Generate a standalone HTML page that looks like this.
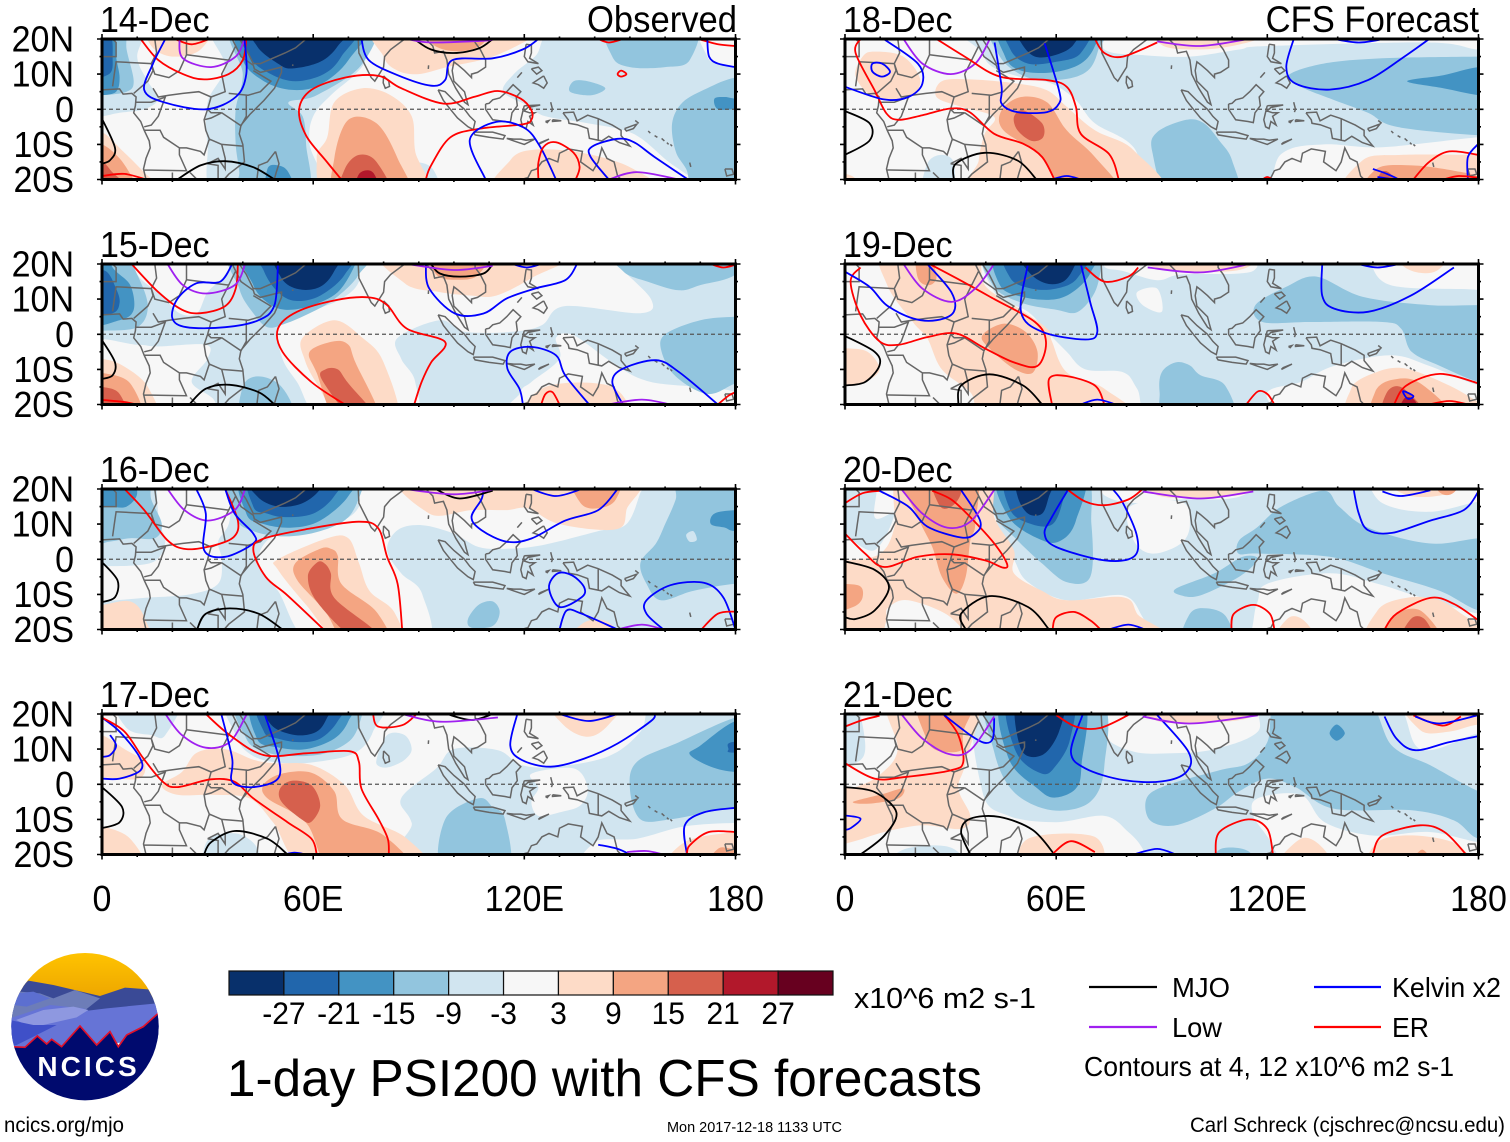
<!DOCTYPE html>
<html lang="en">
<head>
<meta charset="utf-8">
<title>1-day PSI200 with CFS forecasts</title>
<style>
html,body{margin:0;padding:0;background:#fff;}
svg{display:block;font-family:"Liberation Sans",sans-serif;}
</style>
</head>
<body>
<svg id="chart" xmlns="http://www.w3.org/2000/svg" width="1510" height="1142" viewBox="0 0 1510 1142">
<rect width="1510" height="1142" fill="#fff"/>
<g id="panels"></g>
<g id="colorbar"></g>
<text x="854" y="1008" font-size="29" textLength="182" lengthAdjust="spacingAndGlyphs">x10^6 m2 s-1</text>
<text x="227" y="1096" font-size="52" textLength="755" lengthAdjust="spacingAndGlyphs">1-day PSI200 with CFS forecasts</text>
<text x="667" y="1132" font-size="14.5" textLength="175" lengthAdjust="spacingAndGlyphs">Mon 2017-12-18 1133 UTC</text>
<text x="1190" y="1132" font-size="21" textLength="315" lengthAdjust="spacingAndGlyphs">Carl Schreck (cjschrec@ncsu.edu)</text>
<text x="4" y="1132" font-size="21" textLength="120" lengthAdjust="spacingAndGlyphs">ncics.org/mjo</text>
<g>
<line x1="1089" x2="1157" y1="987" y2="987" stroke="#000" stroke-width="2.2"/>
<text x="1172" y="997" font-size="28" textLength="58" lengthAdjust="spacingAndGlyphs">MJO</text>
<line x1="1314" x2="1381" y1="987" y2="987" stroke="#00f" stroke-width="2.2"/>
<text x="1392" y="997" font-size="28" textLength="109" lengthAdjust="spacingAndGlyphs">Kelvin x2</text>
<line x1="1089" x2="1157" y1="1027" y2="1027" stroke="#a020f0" stroke-width="2.2"/>
<text x="1172" y="1037" font-size="28" textLength="50" lengthAdjust="spacingAndGlyphs">Low</text>
<line x1="1314" x2="1381" y1="1027" y2="1027" stroke="#f00" stroke-width="2.2"/>
<text x="1392" y="1037" font-size="28" textLength="37" lengthAdjust="spacingAndGlyphs">ER</text>
<text x="1084" y="1076" font-size="28" textLength="370" lengthAdjust="spacingAndGlyphs">Contours at 4, 12 x10^6 m2 s-1</text>
</g>
<g transform="translate(0,940) scale(0.3333)">
<defs><clipPath id="logoClip"><circle cx="255" cy="260" r="221"/></clipPath>
<linearGradient id="skyGrad" x1="0" y1="0" x2="0" y2="1"><stop offset="0" stop-color="#ffc400"/><stop offset="1" stop-color="#eda500"/></linearGradient></defs>
<g clip-path="url(#logoClip)">
<rect x="30" y="35" width="450" height="140" fill="url(#skyGrad)"/>
<path d="M30 170 L85 122 L160 135 L300 168 L375 143 L445 148 L490 230 L490 300 L30 300Z" fill="#3a4a96"/>
<path d="M30 200 L60 155 L120 160 L160 175 L225 150 L300 175 L250 215 L30 260Z" fill="#6d7db8"/>
<path d="M50 160 L100 155 L150 175 L80 200 L40 195Z" fill="#5c6fd0"/>
<path d="M30 235 L150 195 L250 205 L265 212 L320 205 L470 190 L490 230 L490 300 L30 330Z" fill="#6674d6"/>
<path d="M48 240 L130 210 L220 200 L265 210 L230 232 L130 255 L80 255Z" fill="#8e98e0"/>
<path d="M30 240 L100 255 L170 255 L90 295 L50 315 L30 320Z" fill="#3f50c8"/>
<path d="M30 320 L75 322 L112 288 L140 312 L155 298 L185 320 L240 258 L290 315 L330 275 L355 320 L380 285 L430 260 L480 215 L490 500 L20 500Z" fill="#000a6e" stroke="#e0102a" stroke-width="5"/>
</g>
<text x="112" y="408" font-size="84" font-weight="bold" fill="#fff" textLength="298" lengthAdjust="spacing">NCICS</text>
</g>
</svg>
<script>
const panelDates = ['14-Dec','15-Dec','16-Dec','17-Dec','18-Dec','19-Dec','20-Dec','21-Dec'];
const latTicks = [20,10,0,-10,-20];
const latLabels = ['20N','10N','0','10S','20S'];
const lonTicks = [0,60,120,180];
const lonLabels = ['0','60E','120E','180'];
const colorbarColors = ['#08306b','#2166ac','#4393c3','#92c5de','#d1e5f0','#f7f7f7','#fddbc7','#f4a582','#d6604d','#b2182b','#67001f'];
const colorbarLabels = ['-27','-21','-15','-9','-3','3','9','15','21','27'];
const contourColors = {m:'#000000',k:'#0000ff',l:'#a020f0',e:'#ff0000'};

const fills14 = [
[-6,134,25,123,15,117,10,114,5,121,1,126,-2,138,-4,151,-7,161,-15,168,-20,172,-25,190,-25,190,25],
[0,170,25,172,15,175,13,180,12,190,12,190,25],
[-12,144,25,145,15,150,12,160,12,167,14,168,25],
[-12,134,8,138,8,143,6,139,4,133,5],
[-12,190,9,180,9,172,6,165,2,162,-4,163,-12,166,-17,170,-25,190,-25],
[-18,174,3,177,3.5,180,3,185,3,185,-1,180,0,175,0],
[-6,-5,25,12,25,10,15,13,8,16,3,12,0,5,-1,0,-2,-5,-2],
[-6,33,25,35,12,30,2,30,-10,33,-25,62,-25,59,-10,60,-2,65,4,72,10,75,15,74,25],
[-6,79,-25,82,-17,88,-15,94,-17,95,-25],
[-12,-5,25,6,25,7,17,9,8,7,5,0,4,-5,4],
[-12,38,25,40,10,38,0,38,-10,39,-18,39,-25,58,-25,58,-10,57,-2,53,2,61,4,74,13,75,25],
[-18,-5,25,3,25,4,15,5,9,4,5,0,4,-5,4],
[-24,-5,25,2,22,3,15,2,10,-5,10],
[-18,40,25,40,14,46,8,54,5.5,62,7,70,14,74,25],
[-18,47,-25,47,-17,50,-16,53,-18,55,-25],
[-24,41,25,42,15,48,10,55,8,63,10,68,15,72,25],
[-30,43,25,44,18,50,13,54,11.6,62,13.5,67,18,70,25],
[6,74,6,66,2,64,-8,61,-14,65,-25,92,-25,89,-12,88,-2,82,4],
[12,70,-3,66,-14,67,-25,87,-25,84,-14,78,-4],
[18,68,-25,69,-17,73,-13,78,-15,82,-25],
[24,72,-25,73,-18.5,77,-18,79,-25],
[6,79,25,80,15,84,11,90,10,98,12,111,15,123,21,125,25],
[12,92,25,94,18.5,101,16.5,108,18.5,110,25],
[6,-5,-7,0,-6.5,6,-12,12,-18,18,-25,-5,-25],
[12,-5,-10,0,-10,5,-14,9,-20,12,-25,-5,-25],
[18,-5,-15,0,-15,3,-18,6,-21,6,-25,-5,-25],
[6,13,25,14,18,20,15,28,17,31,25],
[6,113,-25,116,-14.5,123,-11.5,137,-12.5,151,-17,158,-25]
];
const contours14 = [
['e',[11,20,16,14,23,10,29,8.5,36,10,40,14,41,20]],
['e',[20.7,20,25.4,18.5,30.5,20]],
['l',[22,20,23,14.5,31,12,38,15,40.5,20]],
['k',[18,20,14.5,13,12,5.5,17.5,2,29.5,0,38,3.5,41,10,40.5,20]],
['m',[0,-2.7,3.7,-11,2.3,-14.5,0,-15.5]],
['m',[21.4,-20,28,-16,35,-14.8,43,-16.5,49,-20]],
['e',[0,-19,6.4,-18.4,12.5,-20]],
['e',[68,-20,63.5,-14.5,58,-7.5,56,0,59.5,5.5,69,9,78.6,9.5,85,6,97,1.6,106,3.6,112.5,5.2,119,3,122,-0.3,122,-3,119.5,-4.3,107.5,-5.5,99,-8,93.5,-16,92,-20]],
['k',[73.7,20,75.8,14,84,9.7,93.5,6.7,97.5,8.3,99.6,14,111,14.5,119.5,17,124,20]],
['m',[88.7,20,93.5,17,100,16,107,17.3,111,20]],
['l',[86.6,20,93.5,19,108,19.5,112,20]],
['k',[109,-20,104.5,-8.7,112,-3.6,120,-5.3,124.5,-10.7,129,-20]],
['e',[124,-20,124,-15.2,125.5,-10.7,129,-9.4,134,-12.4,135.7,-16.4,134.6,-20]],
['k',[144,-20,138.8,-13.5,139.3,-10.6,146.5,-8.4,151.2,-9.4,156.9,-13.5,166.5,-20]],
['l',[144,-20,152,-17.9,164,-20]],
['e',[141,20,144,19,148,20]],
['e',[169.4,20,175,18.5,180,18]],
['k',[172,20,172.5,15,175,13,180,12]],
['e',[146.5,10,147.5,11,149,10,147.5,9.3],1]
];

const fills15 = [
[-6,-5,25,190,25,190,-25,-5,-25],
[0,73,25,146,25,146.5,20,156,10,153,6,131.5,8,125,2.6,116.6,0.7,103,0.7,96,4,84,-1,85,-7,89,-13.6,88,-25,63.6,-25,55.4,-13.6,51.3,-7,50,1.6,55.4,5.5,66.5,9.3,73,15],
[0,122,-13.6,130,-7,129,-1,134,-0.3,145,-8,156,-13.6,180,-16.5,185,-25,119,-25,119,-16.5],
[0,8,25,10,17,17,11,22,6,27,6,30,12,35,17,38,25],
[0,-5,-3,10,-3,16,-3.5,29.5,-3,30,-7,25.5,-13.6,32,-19,30,-25,-5,-25],
[-12,-5,25,5,25,10,17,13,8,10,2,0,1,-5,1],
[-18,-5,25,1,25,3,19,8,14,9,7,5,4,-5,4],
[-24,-5,18,1,18,4,13,5,9,3,6,-5,6],
[-12,38,25,39,13,43,6,47,2,52,3,59,6,66,10,73,17,75,25],
[-18,41,25,43,14,47,9,52,7,59,8,67,12,72,20,73,25],
[-24,45,25,46,18,50,12,55,9.5,62,11,69,17,71,25],
[-30,49,25,51,16,56,12.8,62,13.5,66,18,68,25],
[-12,40,-25,40,-15,44,-12,50,-14,54,-20,54,-25],
[-12,146,25,148,18,155,15,164,12.5,170,14,180,17,185,25],
[-12,190,5,180,5,170,4,160,0,159,-5,163,-12,172,-17,180,-14,190,-10],
[6,66,4,57,-1,57.5,-7,61,-14,69,-25,84,-25,80,-8,74,-1],
[12,66,-2,59,-5,61,-11,67,-25,79,-25,72,-8,70,-3],
[18,63.5,-10,62.5,-13,72,-25,79,-25,70,-14,67,-10],
[6,81,25,86,14.5,96,12,105,11,112,11,122,16,135,25],
[12,93,25,95,17,101,15.5,107,17,110,25],
[6,-5,-7,0,-7,6,-9,13,-15,15,-25,-5,-25],
[12,-5,-11,0,-11,8,-14,11,-25,-5,-25],
[18,-5,-15,0,-15,5,-17,7,-25,-5,-25],
[6,120,-25,126,-15,145,-15,148,-25]
];
const contours15 = [
['e',[8.4,20,16,12,22.7,7,28,6,35,8,38,13,38.6,20]],
['l',[18.6,20,23,14,29.5,11.6,37.7,14,40.7,20]],
['k',[37,20,33.6,15,26.8,14.5,21.4,10,20,4.5,24,2,35,2,44.5,4,49,8.3,50,20]],
['m',[0,-1.7,3.7,-8,3,-11.7,0,-12.7]],
['m',[24.8,-20,29.5,-15.5,36.3,-14.4,44.5,-16.5,49,-20]],
['e',[0,-18.7,6.4,-19.3,9.8,-20]],
['e',[69,-20,59.5,-13.6,51.3,-5,50,1.6,55.4,6.4,66.3,9.7,75.8,10.5,81,8.3,86.6,1.6,97.5,-2.2,93.5,-8,90.8,-13.6,88.7,-20]],
['k',[92,20,93,13,100.3,5.9,108.4,5.9,115,10.2,123,13,131.6,15.4,135,20]],
['m',[93.5,20,96,17.3,101.6,16.4,108.4,17.3,111,20]],
['l',[86.7,20,100,18.3,111,19.5]],
['k',[116.6,20,120.7,19,124.8,20]],
['k',[119.6,-20,118.6,-15.5,115.2,-9.8,116,-5,122,-3.6,129,-6,131.6,-11.7,138.4,-20]],
['e',[124.8,-20,126,-17,128,-16.5,130,-20]],
['k',[148,-20,145,-13.6,148,-9.8,157.4,-7.4,164,-10.8,175,-20]],
['l',[143.8,-20,153.4,-18.6,161.5,-20]],
['e',[173,20,176.5,19,180,19.8]],
['e',[175,-20,178,-17.5,180,-16.5]]
];

const fills16 = [
[-6,-5,25,190,25,190,-25,-5,-25],
[0,73,25,154.7,25,153,19,149,10,141,8,125,4,115,3,107,3.5,100,7.3,91,9.7,84,8.3,81,2.6,85,-4,91,-10,91.5,-25,61,-25,50,-9,44.5,-1.2,47,5.4,54,8,66,10,73,15],
[0,18,25,16,12,18,5,14,-1,0,-2,-5,-2,-5,-12,0,-12,12,-11,25,-10,33,-7,34,0,33,5,36,10,37,18,38,25],
[-12,-5,25,12,25,14,17,17,10,15,6,8,6,2,5,-5,5],
[-18,-5,25,7,25,10,19,7,15,2,15,-5,15],
[-12,38,25,38,12,43,8,52,6.5,62,8,70,12,74,20,75,25],
[-18,41,25,41,13,46,10,54,9,62,11,70,18,71,25],
[-24,43,25,43,15,47,13,52,12,60,13,66,18,68,25],
[-30,41,25,44,18,50,15,57,16,62,20,63,25],
[-12,190,25,165,25,163,17,160,10,157.4,4.5,153,-1,154.7,-7,158.8,-11.7,168,-9,180,-7,190,-7],
[-18,190,14,180,14,174,13,173,10,177,9,180,8,190,8],
[-6,166,7,168,8,169,5.5,167,5],
[-12,104,-17,107,-13,111,-12,113,-15,111,-19,105,-19.5],
[6,64,6,50,0,50,-3,58,-13,69,-25,85,-25,83,-15,76,-9,73,-1,70,6],
[12,62,3,55,-1,55.5,-6,63.5,-15,70,-25,82,-25,78,-15,68,-7,67,1,65,3],
[18,61,-1,58.5,-5,61,-12,71,-22,78,-21,66,-11,65,-4,63,-1],
[6,87,25,93,13,105,14,115,14,121,14.5,130,10,146,8.5,149,14,149,25],
[12,133,25,136,16,141,14.5,146,17,147,25],
[6,-5,-13,0,-13,8,-12,12,-16.5,13,-25,-5,-25],
[6,132,-25,137,-18,144,-18,148,-25]
];
const contours16 = [
['e',[6.4,20,12,14,18.6,5.4,24,2.9,32,4,37.5,6.4,38.6,11,35,20]],
['l',[18.6,20,23.4,14,30,11,37.7,14,40.7,20]],
['k',[26.8,20,29.5,13,29,2.6,35,0.7,43,4.5,43,7.3,37.7,13,35,20]],
['m',[0,-0.8,4.4,-6,3.7,-10.8,0,-12.2]],
['m',[27,-20,29.5,-15.5,36.3,-14,44.5,-15.5,51.3,-20]],
['e',[63,-20,52.7,-10.3,46.5,-5,43,2.6,46,5.9,59.5,8.8,73,10.7,78.5,8.8,81,0.7,84,-7,85.3,-20]],
['k',[108.4,20,107.8,17,105,12,107.8,8.3,115,5,122,5.9,131.6,11,141,14,146.5,20]],
['k',[122,20,129,18,136.3,20]],
['m',[94.8,20,101.6,17.3,111,19.5]],
['l',[86,20,100,18.5,112.5,20]],
['k',[129.5,-4,127,-8,130,-13.6,136.3,-10.8,137,-8,133.6,-4.6],1],
['k',[130,-20,132,-14.6,136.3,-15.5,146.5,-20]],
['l',[146.5,-20,153.4,-18.6,159.5,-20]],
['k',[159.5,-20,154.7,-15.5,154.7,-11.7,161.5,-7.4,171,-6.7,176.5,-10.8,180,-20]],
['e',[170.3,-20,175,-15.5,180,-14.9]]
];

const fills17 = [
[-6,159,25,153,15,144,8,129,5,119,5.5,112.5,9.7,100,10,95,4.5,85,-4,88,-11,91,-25,190,-25,190,25],
[0,122,3,134,4.5,138,-1,136,-6,130,-8,124,-9,122,-5,124,-1],
[0,140,-25,140,-16.5,152,-15.5,165.5,-12,180,-11,190,-11,190,-25],
[-6,78,7,81,14,86,14,88,10,86,7,82,5,79,5],
[-6,4,25,7,16,14,14,18,14,22,25],
[-6,30,-25,30,-16,38,-14,44,-18,44,-25],
[-12,190,20,180,19,164,12,152,6.4,150,-1.3,153,-10,161.5,-10,172,-8,180,-6.5,190,-6],
[-18,190,19,180,18,170,11,167,8.5,173,5,180,3.5,190,3.5],
[-24,179,12,178,10,179,9,190,9,190,12],
[-12,107,-4,97.5,-10,97,-25,115,-25,114.5,-10,111,-6.5],
[-6,38,25,38,14,43,8,52,6,62,6.5,72,9,77,15,78,25],
[-12,40,25,41,13,47,9,56,8,64,9,71,13,74,20,75,25],
[-18,44,25,44,13,50,10.5,58,10,66,13,70,18,71,25],
[-24,45,25,46,15,50,13,56,12,62,13,67,18,69,25],
[-30,46,25,48,17,55,14,61,15,64,19,66,25],
[6,48.6,6,59.5,5.5,69,-0.3,74.4,-9,86.7,-15.5,92,-25,59.5,-25,48.6,-10.8,41.8,-4,31,-3,21.4,-3,17,-0.3,22.7,3.5,27,9,35,10,43,7],
[12,51,3,59.5,3.3,66,-2,68.3,-10,80,-14.5,88,-25,66,-25,58,-11,47,-4,46,0],
[18,54,1,59.5,-0.3,62,-6,59.5,-10.7,56.7,-10,51,-5,50.6,-1.2],
[6,-5,14,0,14,6.4,10,12,6.4,10.5,1.6,0,2,-5,2],
[6,-5,-12,0,-12,8,-15.5,12,-25,-5,-25],
[6,161.5,-25,165.5,-16.5,180,-13.6,190,-13,190,-25],
[12,172,-25,175,-18.4,180,-18.4,190,-18,190,-25],
[6,127,25,131,17,138,13.5,144,17,148,25]
];
const contours17 = [
['k',[0,19,5,15,10.5,8,11,4,5,1.6,0,1.6]],
['k',[0,7.8,2.3,8.3,4,11,2.3,14]],
['e',[0,19,6.4,15,11.8,7.3,17.3,0.7,21.4,-0.8,31,1.4,37.7,0.7,43,-4,52.7,-10.8,59.5,-15.5,61,-20]],
['m',[0,-0.8,5.7,-6.5,5,-10.8,0,-12.5]],
['m',[29,-20,31,-16.5,37.7,-13.3,47,-15.5,52.7,-20]],
['l',[18,20,22.7,14,29.5,10.4,36.3,12,41,19.7]],
['e',[29.5,20,36.3,14,46,8.3,58,8.8,70.3,9.4,73,6.4,73.7,-1.2,78.5,-9.8,81.2,-15.5,81.5,-20]],
['k',[33.9,20,37,7.3,37,0.7,43,-0.8,50,1.6,50,8.3,46.3,19.7]],
['e',[77,20,78.5,16.4,85.3,16.8,89.4,20]],
['m',[98,20,105,18.3,111,20]],
['l',[85.3,20,96,17.8,112.5,19]],
['k',[118,20,116,11,119.3,6.9,127.5,5,137,7.3,146.5,11.6,156,18,157,20]],
['k',[130,20,138.3,18,146.5,20]],
['k',[180,-6.7,171,-8,165.6,-11.7,166.2,-20]],
['e',[180,-13.6,172.4,-13.6,167,-17.4,166.2,-20]],
['k',[141,-17.2,146.5,-18.4,150,-20]],
['l',[149.2,-19.3,154.7,-19,159.5,-20]],
['k',[52,-20,54.7,-19.5,58,-20]]
];

const fills18 = [
[-6,32,25,38,17,42,12,50.6,9,58.8,7.3,65.6,2.6,71,-4,82,-10.8,88.7,-25,117,-25,124,-12.7,136,-10,152.7,-10.8,180,-8,190,-8,190,18,180,17,166,19,120,18,112,17,98,15,85,15.4,73.7,17,71,25],
[-12,126,9.7,136,13,152.7,14.5,180,15,190,15,190,-7,180,-7.4,156.7,-5,148.6,-1,139,2.6,129.5,6.4],
[-18,159.7,8,170,9.7,180,12,190,12,190,3,180,4,170,6],
[-12,97,-3,88.7,-6.5,87.3,-12,92.8,-25,111,-25,110,-14.6,106.4,-9,102,-4],
[-12,43,25,44,15,52,9,62,8.5,69,11,72,17,73,25],
[-18,45,25,45.5,15,50,11,59,10.5,67,13,71,18,72,25],
[-24,46.5,25,47,17,52,13,60,13.5,67,16,69,25],
[-30,48,25,50,19,54,15,60,15.5,65,18.5,66.5,25],
[6,8.4,16.4,16.6,15,21.4,8.3,18,3.5,8.4,3.5,3,9.3,5,15],
[6,27.5,8,35.6,8.5,49,7.3,57.4,5.4,63,0.7,71,-6,82,-11.7,88.7,-25,37.7,-25,38,-14.6,39.7,-7,42.4,-2.2,33,0.7,26,3.5],
[12,50,3.5,57.4,2,63,-6,71,-13.6,79,-25,63,-25,56,-13.6,45,-6,44.5,-0.3],
[18,50.6,-0.3,56,-4,56.3,-8,53,-9,49,-6,48,-2.2],
[6,144,-25,147,-14.6,158,-13,180,-13,190,-13,190,-25],
[12,149,-25,151,-17,161,-16,173,-17.5,180,-19.5,180,-25],
[18,150.6,-25,152,-18.4,155,-18.4,158,-25],
[6,-5,-25,-5,-19,2,-19,6,-25],
[-6,22,-25,23.4,-15.5,27.5,-13,31,-15.5,30,-25],
[6,88,25,90,18.3,100,17,110,18,120,21,122,25]
];
const contours18 = [
['e',[4.4,20,3,16,8.4,5.4,11.8,-1.2,15.2,-3,22,-1.7,30,0.2,35.4,-0.8,42.4,-7,50.6,-9.8,56,-13.6,59.5,-20]],
['k',[7.8,13,10.5,13,12.8,10.7,10.5,9.3,7.8,10.7],1],
['k',[11,20,20.7,13,22,7.3,18,3.5,11,2.8,0,6.4]],
['l',[16.6,20,22,13,30,10,37,13,41,19.7]],
['e',[26,20,34,15,44,9.3,57.4,8.3,63,6.4,65.6,0.7,67,-7,75,-12.7,77.8,-20]],
['k',[42.5,19,44.5,6.4,44.5,1.6,49,-0.8,57.4,-0.8,60.8,1.6,60.8,5.4,56.7,18.8]],
['e',[71,20,73.7,16,79,15,88.7,19]],
['m',[0,-0.5,7,-4,7,-8.9,0,-13]],
['m',[30.9,-20,31.5,-15.5,39.7,-12.4,49,-14.6,54.4,-20]],
['k',[58.8,-20,63,-19,67,-20]],
['l',[88.7,19.3,101,18,114.6,20]],
['k',[127.5,20,125.4,12,128,7.3,137.7,5.6,148.6,8.3,159.5,15.4,166,20]],
['k',[139,20,146,19,153,20]],
['e',[161.5,-20,166,-15,171.7,-12,180,-13]],
['k',[180,-9.8,177,-13.6,177,-20]],
['k',[150,-17,154,-18.4,157,-20,151.3,-19.3]],
['e',[170,-20,174.4,-19,180,-19.5]],
['e',[118.6,-20,120,-19.3,121.4,-20]]
];

const fills19 = [
[-6,41,25,42.5,12,52,6.4,57.4,0.7,63,-5,68.3,-10,79,-10.8,83,-15.5,88.7,-25,120,-25,120,-16.5,129.5,-13.6,139,-9,155,-6,166,-9,180,-14.5,190,-15,190,10,180,12.6,155,14,148.6,22,146,25,118,25,117,19,112,17.3,95.5,17,88.7,15.4,79,18,73.7,19.3,73,25],
[0,83,12,88.7,13,90,6.4,84.6,8.3],
[-12,116.6,8.3,125.4,13.5,134,16.4,147,10.7,166,8.3,180,8.3,190,8,190,-15,180,-13.6,169,-9,161,-5,158,1.6,152.7,3.5,132,3.5,118.6,3.5],
[-12,94,-8,90,-10.8,89.4,-16.5,91.4,-25,110,-25,108,-14.6,101,-11.7,98,-8.9],
[-12,41,25,42,14,50,9,60,7,66,6.3,71,12,73,20,74,25],
[-18,44,25,44,14,51,10.5,60,10,66,13,70,18,71,25],
[-24,46,25,47,16,53,13,60,13,66,16,69,25],
[-30,49,25,52,18,57,14.5,62,15,65,19,66.5,25],
[6,11,25,12,14,19.3,3.5,23.4,-1.2,27.5,-10,35.6,-16.5,42.4,-25,82,-25,73.7,-15.5,63,-10.8,58.8,-2,57.4,1.6,48,8.3,39.7,14,35.6,25],
[12,45,3,51.3,0.7,54.7,-5,53.3,-11,48,-9.8,41,-4,39,-0.3],
[12,22.7,25,26,16.9,24,14,20.7,16,20,25],
[6,-5,-4,0,-4,6.4,-5,9.8,-10,5.7,-13.6,0,-14.6,-5,-14.6],
[6,146.5,-25,143.8,-15.5,151,-10.8,159.5,-9.8,171.7,-14.6,180,-19.3,190,-25],
[12,151,-25,150.6,-16.5,155.4,-13,163.5,-14,173,-25],
[18,153,-25,154,-16.5,158.8,-15.5,166,-25],
[24,157,-25,158.8,-18.4,162,-19,163.5,-25],
[6,155,25,160,18.5,168,18,172,25],
[6,84.6,25,88.7,18.8,112,18.3,117,25]
];
const contours19 = [
['e',[4.4,19,1.6,15,4.4,5.4,9.8,-2,15.2,-3,23.4,-0.8,31.6,0.2,39.7,-4,48,-8,54.7,-9,57.1,-2.2,54,3.5,42.4,10,31.6,16,24,20]],
['k',[0,17.8,7,13.5,11.8,8.3,19.3,4.5,26,4,30.9,6.4,30.2,12,23.4,20]],
['l',[16.6,20,22,13,30.2,9.2,37,13,42.4,20]],
['k',[52,20,50,6.4,56,0.7,68.3,-1.5,71.7,0.7,69.7,9,67,20]],
['e',[68.3,19,73.7,15,80.5,16.4,83.3,19]],
['m',[0,-0.5,8.4,-5,9.8,-8.9,5.7,-13.6,0,-14.6]],
['m',[32.2,-20,33,-14.6,41,-11.4,50.6,-14.6,56,-20]],
['e',[58.8,-20,58,-12.7,62.9,-11.9,71,-14.6,73.7,-20]],
['k',[67,-20,71.7,-18.6,77,-20]],
['l',[86,19,101,17.6,115,20]],
['e',[114,-20,117.3,-16.3,120,-17,122,-20]],
['e',[156,-20,159.5,-14.6,169,-11.3,180,-14]],
['e',[166,-20,171.7,-19,177,-20]],
['k',[158.8,-16.2,161.5,-17.6,160,-18.4,158.8,-17],1],
['k',[135.6,20,135.6,11,139,7.3,148.6,6.4,160.8,11,173,19]],
['k',[145.8,20,151.3,19,157.4,20]]
];

const fills20 = [
[-6,41,25,43,11,48,0,52,-6.5,63,-11.7,79,-10.3,84.6,-16.5,88.7,-25,112,-25,117,-12.7,120,-7,137.7,-4,151.3,-7,163.5,-10.8,180,-15.5,190,-16,190,17,180,16.4,166,13.5,152.7,16,144.5,25,124,25,112,17.8,95.5,17,83,16,74,18,68,25],
[0,81,15,95.5,16.4,98,10,95.5,4.5,87.3,1.6,82,5.4],
[-12,112,5.4,117,9,124,15,136,19.5,140.4,15,148.6,9,166,4.5,180,6,190,6,190,-15,180,-14.6,169,-9,152.7,-4,137.7,0.7,117.6,1.6,111.8,1.6],
[-12,94,-8.4,105,-4,113,0.7,117.3,0,112,-5,101,-10.3,95.5,-10.3],
[-12,96,-25,98,-15.5,103,-14,108.4,-16.5,110,-25],
[-12,67,25,70,10,69.7,-5,63,-6.5,56,-1.2,48,6.4,42.4,13,41,25],
[-18,44,25,46.5,12,56,5.4,61.5,5.4,65.6,11,67.2,25],
[-24,46,25,47,14,53,10,59,10,62,17,63,25],
[-30,49,25,49,18,52,13,56,13,58,18,60,25],
[-6,-5,25,8.4,25,8.4,12,14,13,8.4,2.6,0,6.4,-5,6],
[6,16,25,14,9,10,1.6,1.6,-0.3,-5,-1,-5,-25,87,-25,83,-15.5,79,-10.8,63,-11.7,56,-9,48,-4,48,2.6,42.4,12,40,25],
[0,12.5,-13.6,18,-11.7,30,-16.5,34.3,-25,13,-25,11.8,-16.5],
[12,16.3,25,20.7,12,24.8,3.5,27.5,-5,31.6,-9.8,34.3,-5,35.6,5.4,37,10,36.3,25],
[18,24,25,26.8,15.4,30.2,15,33,19,32,25],
[12,-5,-8,3.7,-7.4,5,-10.8,2.3,-13.6,-5,-15],
[6,150.6,-25,151.3,-14.6,159.5,-11,169,-11.7,178.5,-17.4,190,-20,190,-25],
[12,154,-25,155.4,-16.5,163.5,-14.6,170,-25],
[18,157.4,-25,160.8,-17,165,-17.4,167.6,-25],
[6,121.4,-25,126,-16.7,131,-18,134,-25],
[6,86,25,88,18.5,100,17.5,115,19,118,25],
[6,152.7,25,159.5,18.3,171.7,18.8,180,25],
[12,166,25,169,19,173,19,176,25]
];
const contours20 = [
['e',[0,16,5,18.8,9.8,19.5]],
['e',[0,7.3,5.7,1.6,11.2,-2.2,20.7,0.7,30.2,1.4,39.7,-0.3,45,-2.4,46,-1.2,42.4,4.5,35.6,12,30.2,17,24.8,19.5]],
['k',[9.8,19.5,18,15,23.4,9.3,33,6.2,37,7.3,38.4,11,33,19.7]],
['l',[16,20,22,13,29,9,35.6,10.7,42.4,19.7]],
['m',[0,-0.6,8.4,-3,12.5,-8,8.4,-14.6,3,-17,0,-16.5]],
['m',[34.3,-20,33,-15.5,41,-10.5,52,-13.6,58,-20]],
['e',[59,-20,60,-16.5,65,-15,69.7,-17.4,72.6,-20]],
['k',[75,-20,80.5,-18.6,85.3,-20]],
['k',[76,20,79,16,83,6.4,82,0.7,73.7,-0.3,60,3.5,56.7,7.3,58.8,12,63.5,20]],
['e',[63,20,68.3,16.4,73.7,15.4,80.5,17,84.6,20]],
['l',[84.6,19.3,101,17.3,116,19.3]],
['e',[109.8,-20,110.5,-15.5,116,-13,120.7,-15.5,122,-20]],
['e',[153.3,-20,156.7,-15.5,166.3,-11,173,-12.7,180,-17.4]],
['k',[144.5,20,146,13,148.6,8.3,155.4,7.5,166.3,11,175.8,14,180,19.3]],
['k',[152.7,19.3,158,18,166.3,19.6]]
];

const fills21 = [
[-6,39,25,39,-2,46.5,-9,60,-10.8,73.7,-9,80.5,-13.6,84.6,-18.4,86.7,-25,121.4,-25,121.4,-17.4,116,-9,117.3,-4,129.5,-3,136.3,-10.8,150,-14.6,166,-13.6,180,-16.5,190,-17,190,15,180,14.5,163.5,10,154,25,120,25,117.3,15,105,10,92.8,8.8,82,9.3,73.7,14,72.4,25],
[-12,124,25,120,12,114.6,6,106.4,4,91.4,-0.3,85.7,-4,86.7,-10.3,94,-11.7,105,-7,112,-2,120,1.6,128,-0.8,139,-7,161,-7.4,173,-10.3,180,-15.5,190,-15,190,-5,180,-2,166.3,5.4,155.4,11,147,25],
[-18,139.7,17,142,14.5,139.7,12.4,137.7,14.5],
[-12,41.8,25,42.4,9.2,48,-2.2,58.8,-7.4,69.7,-5,73.7,5.4,71.7,25],
[-18,45,25,46.5,7.3,54.7,-1.2,59.5,-3.8,65.6,-1.2,67.2,5.4,67.2,25],
[-24,46.5,25,48.6,9.2,56,3,60,5.4,64,13,64,25],
[-30,49,25,50,10,56,8.3,60.8,15,61.8,25],
[6,12.5,25,15,10,9.8,2.6,3,-0.8,0,-1,-5,-1,-5,-17,1.6,-16.5,11.2,-13.6,22,-11.7,33,-12.7,35.6,-9,32.2,-1.2,34.3,6.4,37,25],
[12,20.7,25,22.7,14,26,9.7,33,9.7,33.6,15,36.3,25],
[12,2.3,-5,11,-2.7,16.6,-1.2,15.2,-4,7,-5.5],
[6,150,-25,151.3,-16.5,162,-14.6,174.4,-17.4,176.5,-25],
[12,160,-25,164,-18.6,167.6,-25],
[6,122,-25,129.5,-15.5,136,-18.4,137.7,-25],
[6,51.3,-25,52,-15.5,71,-15,71.7,-25],
[6,159.5,25,163.5,15.4,171.7,15,180,17,190,17,190,25],
[-6,12,-25,16.6,-18.6,30,-18,34,-25],
[-6,-5,25,2.3,25,5.7,12,3.7,6.4,-5,6],
[-12,105,-25,106.4,-18.6,114.5,-19,117,-25],
[6,84,25,88,18.3,100,17.5,115,19,118,25]
];
const contours21 = [
['e',[0,16.4,5,18.3,9.8,19.5]],
['e',[0,6,8.4,1.6,16.6,2,30.2,4,33.6,6.4,32.2,14,28.2,19.7]],
['k',[28.2,19.7,35.6,14,39.7,11.8,42,13,42.4,18.8]],
['l',[16,20,22,13,29.5,8.6,35.6,9.7,42.4,19.3]],
['m',[0,-0.8,8.4,-2.2,14.6,-8,11.2,-14.6,4.4,-20]],
['k',[0,-8.9,4.4,-9.8,1.6,-12.5,0,-13]],
['m',[35.6,-20,33,-13.6,35.6,-9.8,43.8,-9.3,53.3,-13,59.5,-20]],
['e',[58.8,-20,64.2,-16.2,71,-19.3]],
['k',[82,-20,88.7,-18.4,94,-20]],
['k',[67.6,20,64.2,9.2,68.3,4.5,79,1.2,90,0.8,97,3.5,97.6,9.2,88.7,19.7]],
['e',[60,19.7,65.6,16.4,72.4,16,80.5,19.7]],
['l',[84.6,19.3,98,17.3,117.3,19.6]],
['e',[105.3,-20,106.4,-13.6,114.6,-10,120,-12.7,121.6,-20]],
['e',[150,-20,152.7,-14.6,163.5,-11.7,170.3,-13.6,176.5,-20]],
['k',[153.3,19.3,156.7,13,162,9.7,171.7,12,180,13.7]],
['e',[161.5,19.6,169.7,16.7,175,19.3]],
['k',[162,19.3,169,17.3,180,19.7]]
];

const coastlines = [
[0,5.5,5,5.8,6,4.3,8.5,4.5,9.7,3.5,9.5,1,9,-1,11,-3.5,12,-6,13.4,-9,13.7,-11,12.5,-14,11.8,-17,12.5,-20,13.5,-23],
[37,20,38,18,39.5,15,43,12.5,43.3,11.5,45,10.5,51,12,51,10.5,49,6,46,2.5,42,-1.5,39.5,-4.5,39,-7,40,-10,40.5,-15,36,-18.5,34.7,-20,35.5,-23],
[39,20,41,17,43,13,45,13,52,16,55,17.5,58,20],
[72.8,20,73,16,75,12,76.5,9,77.5,8,80,12,80.3,15,82,17,86,20],
[80,9.5,81.5,8,81.7,6.5,80.5,6,79.9,7.5,80,9.5],
[92,20,94,18,94.5,16,97,16.5,98,14,98.5,10,99.5,8,100.5,6,103,2,104,1.3,103.5,3,103,5,100,8,99.5,11,100,13.5,101,12.7,103,11,105,9,105,10,106.7,10.5,109,12,109,14,107.5,17,106,19,106,20],
[95.5,5.5,97.5,5,100,2.5,103,0,104.5,-2,106,-3.5,105.5,-5.8,104,-5,101,-2.5,99,0,97,2.5,95.5,5.5],
[105.5,-6.5,108,-6.5,111,-6.5,114.5,-7.5,114,-8.5,110,-8,106,-7.3,105.5,-6.5],
[115,-8.3,117,-8.5,119,-8.5,120.5,-8.8,123,-8.5,120,-10,117,-9,115,-8.3],
[124,-10,127,-8.5,124.5,-9.5,124,-10],
[109,1.5,110,1.7,111,2.7,113,3.2,115,5,116.8,7,119,5,117.7,3.5,118,1,116.5,-1,116,-3.8,114.5,-3.5,111,-3,110,-1.5,109,0,109,1.5],
[120,1,124.5,1.2,121,0.5,120,-0.5,121.5,-1,123,-1,121.5,-2,122.5,-4.5,121,-3.5,120.5,-5.5,119.5,-5,119,-3,119.7,0,120,1],
[120.5,18.5,122,18.3,122,16,121.5,14.5,124,13,121,13.5,120,15,120.5,18.5],
[125.5,9.5,126.5,7.5,125.5,6,124,7,122.5,7.5,124,8.5,125.5,9.5],
[122,11.5,123.5,10,125,11,124,12,122,11.5],
[118,9,119.3,10.5],
[131,-1,134,-0.8,135,-3.3,138,-1.7,141,-2.7,145,-4.5,147.5,-6,147.5,-7.5,150,-10.5,147,-9.5,144,-7.7,142,-9,138.5,-8.3,138,-5.5,135,-4.4,132.7,-4,132.5,-3,131,-1],
[141,-2.7,141,-9],
[128,-3,130.5,-3.3,128,-3.5,128,-3],
[126,-3.5,127,-3.2,126.5,-3.8,126,-3.5],
[127.5,2,128,0,127.7,-0.8],
[148.5,-5.5,152,-4.2,151,-5.5,149,-6.2,148.5,-5.5],
[151.5,-3.2,152.5,-4],
[155.2,-6.2,155.8,-6.8],
[157,-7.5,157.8,-8],
[159,-8.3,159.8,-9],
[160.5,-9.5,161,-10],
[161.5,-10,162,-10.5],
[167,-15.2,167.3,-16.4],
[177,-17,179,-17,179.5,-18.5,177.5,-19,177,-17],
[92.8,12.5,92.7,11.5],
[54,12.6,54.4,12.5],
[113,-22,114,-21.7,117,-20.5,121,-19.5,122,-17.5,123.5,-17,125,-15,127,-14,129.5,-15,130,-12.5,132.5,-11.3,136.5,-12,136,-15,139.5,-17.5,141,-15,142,-11,143.5,-14,145.5,-15,146.5,-19,148,-20.5,149,-22],
[49.3,-12,50.3,-15.5,49.5,-18,48.8,-20.5,47,-23,44,-20,44.5,-16,47,-15,49.3,-12],
[3,6.5,3.5,10,4,13.5,14,13,14.5,11,13,8,9,4.5],
[0,15,4,15,4,19,3,20],
[15,20,15.5,16,14,13],
[24,20,24,15.5,22,11,19,9,15,10,14,13],
[14.5,6,16,3.5,19,4,23,4.5,27.5,5,31,3.5],
[24,15.5,36,14,34,10,35,5,31,3.5],
[36,14,38,18],
[43,11,48,8,45,5,41.5,4,36,4.5],
[34,-1,39.5,-4.7,41,-2,41,4],
[31,3.5,30,0,29,-3,29.5,-6,30.5,-8.5],
[34,-10,40,-10.5],
[30.5,-8.5,34,-10,35,-14,35,-17,33,-14,30,-15.5],
[22,-11,24,-11,28,-12,29,-13,30.5,-8.5],
[12,-6,16.5,-6,17.5,-8,22,-11,22,-13,24,-17.5,11.8,-17.3],
[20,-18,20,-22],
[25,-18,29,-22],
[30,-15.5,33,-16,33,-20],
[9.5,2,14,2,18,3.5,16,-2,14,-4.5,12,-5],
[34,-1,31,-1,30,0],
[29,-3,31,-2.5,34,-1]
];

const panelFills = [fills14,fills15,fills16,fills17,fills18,fills19,fills20,fills21];
const panelContours = [contours14,contours15,contours16,contours17,contours18,contours19,contours20,contours21];

const NS = 'http://www.w3.org/2000/svg';
const panelWidth = 633.5;
const panelHeight = 140.5;
const colX = [102, 845];
const rowY = [39, 264, 489, 714];
const textStretch = 1.06;

function lonToX(lon, x0){ return x0 + lon / 180 * panelWidth; }
function latToY(lat, y0){ return y0 + (20 - lat) / 40 * panelHeight; }
function bandColor(level){ return colorbarColors[Math.floor((level + 33) / 6)]; }

function project(flat, x0, y0){
  const pts = [];
  for(let i = 0; i + 1 < flat.length; i += 2){
    pts.push([lonToX(flat[i], x0), latToY(flat[i + 1], y0)]);
  }
  return pts;
}
function smoothPath(pts, closed){
  const n = pts.length;
  const at = function(i){
    if(closed){ return pts[(i + n) % n]; }
    return pts[Math.max(0, Math.min(n - 1, i))];
  };
  let d = 'M' + pts[0][0].toFixed(1) + ' ' + pts[0][1].toFixed(1);
  const last = closed ? n : n - 1;
  for(let i = 0; i < last; i++){
    const p0 = at(i - 1), p1 = at(i), p2 = at(i + 1), p3 = at(i + 2);
    const c1x = p1[0] + (p2[0] - p0[0]) / 6, c1y = p1[1] + (p2[1] - p0[1]) / 6;
    const c2x = p2[0] - (p3[0] - p1[0]) / 6, c2y = p2[1] - (p3[1] - p1[1]) / 6;
    d += 'C' + c1x.toFixed(1) + ' ' + c1y.toFixed(1) + ' ' + c2x.toFixed(1) + ' ' + c2y.toFixed(1) + ' ' + p2[0].toFixed(1) + ' ' + p2[1].toFixed(1);
  }
  return d + (closed ? 'Z' : '');
}
function linePath(pts){
  return pts.map(function(p, i){ return (i ? 'L' : 'M') + p[0].toFixed(1) + ' ' + p[1].toFixed(1); }).join('');
}
function make(tag, attrs, parent){
  const el = document.createElementNS(NS, tag);
  for(const k in attrs){ el.setAttribute(k, attrs[k]); }
  parent.appendChild(el);
  return el;
}
function tallText(x, y, size, anchor, parent){
  return make('text', {transform: 'translate(' + x + ' ' + y + ') scale(1 ' + textStretch + ')', 'font-size': size, 'text-anchor': anchor}, parent);
}
const root = document.getElementById('panels');
const defs = make('defs', {}, root);

panelDates.forEach(function(date, idx){
  const col = idx < 4 ? 0 : 1;
  const row = idx % 4;
  const x0 = colX[col], y0 = rowY[row];
  const g = make('g', {}, root);
  
  

  const clip = make('clipPath', {id: 'clip' + idx}, defs);
  make('rect', {x: x0, y: y0, width: panelWidth, height: panelHeight}, clip);
  const inner = make('g', {'clip-path': 'url(#clip' + idx + ')'}, g);

  const bg = make('rect', {x: x0, y: y0, width: panelWidth, height: panelHeight, fill: bandColor(0)}, inner);
  
  

  panelFills[idx].forEach(function(f){
    const p = make('path', {d: smoothPath(project(f.slice(1), x0, y0), true), fill: bandColor(f[0])}, inner);
    
    
  });

  const eq = make('line', {x1: x0, x2: x0 + panelWidth, y1: latToY(0, y0), y2: latToY(0, y0), stroke: '#555', 'stroke-width': 1.3, 'stroke-dasharray': '4 3'}, inner);
  
  

  const coast = make('path', {d: coastlines.map(function(c){ return linePath(project(c, x0, y0)); }).join(''), fill: 'none', stroke: '#666', 'stroke-width': 1.5}, inner);
  
  

  panelContours[idx].forEach(function(c){
    const p = make('path', {d: smoothPath(project(c[1], x0, y0), !!c[2]), fill: 'none', stroke: contourColors[c[0]], 'stroke-width': 1.8}, inner);
    
    
  });

  const frame = make('rect', {x: x0, y: y0, width: panelWidth, height: panelHeight, fill: 'none', stroke: '#000', 'stroke-width': 3}, g);
  
  

  let td = '';
  for(let lon = 0; lon <= 180; lon += 10){
    const x = lonToX(lon, x0).toFixed(1);
    const major = lon % 60 === 0;
    const len = major ? 5 : 2.5;
    td += 'M' + x + ' ' + (y0 - len) + 'V' + y0 + 'M' + x + ' ' + (y0 + panelHeight) + 'V' + (y0 + panelHeight + len);
  }
  for(let lat = -20; lat <= 20; lat += 5){
    const y = latToY(lat, y0).toFixed(1);
    const major = lat % 10 === 0;
    const len = major ? 5 : 2.5;
    td += 'M' + (x0 - len) + ' ' + y + 'H' + x0 + 'M' + (x0 + panelWidth) + ' ' + y + 'H' + (x0 + panelWidth + len);
  }
  const ticks = make('path', {d: td, stroke: '#000', 'stroke-width': 1.6, fill: 'none'}, g);
  
  

  const title = tallText(x0 - 2, y0 - 7, 34, 'start', g);
  title.textContent = date;
  
  

  if(col === 0){
    latTicks.forEach(function(lat, i){
      const t = tallText(74, latToY(lat, y0) + 12.5, 34, 'end', g);
      t.textContent = latLabels[i];
      
      
    });
  }
  if(row === 3){
    lonTicks.forEach(function(lon, i){
      const t = tallText(lonToX(lon, x0), 911, 34, 'middle', g);
      t.textContent = lonLabels[i];
      
      
    });
  }
});

const obs = make('text', {transform: 'translate(737 32) scale(1 ' + textStretch + ')', 'font-size': 34.6, 'text-anchor': 'end'}, root);
obs.textContent = 'Observed';


const cfs = make('text', {transform: 'translate(1479 32) scale(1 ' + textStretch + ')', 'font-size': 34.6, 'text-anchor': 'end'}, root);
cfs.textContent = 'CFS Forecast';



const cbar = document.getElementById('colorbar');
const cbX = 229, cbW = 604 / colorbarColors.length;
colorbarColors.forEach(function(col, i){
  const r = make('rect', {x: cbX + i * cbW, y: 971, width: cbW, height: 24, fill: col, stroke: '#111', 'stroke-width': 1.2}, cbar);
  
  
});
colorbarLabels.forEach(function(label, i){
  const t = tallText(cbX + (i + 1) * cbW, 1024, 30, 'middle', cbar);
  t.textContent = label;
  
  
});
</script>
</body>
</html>
